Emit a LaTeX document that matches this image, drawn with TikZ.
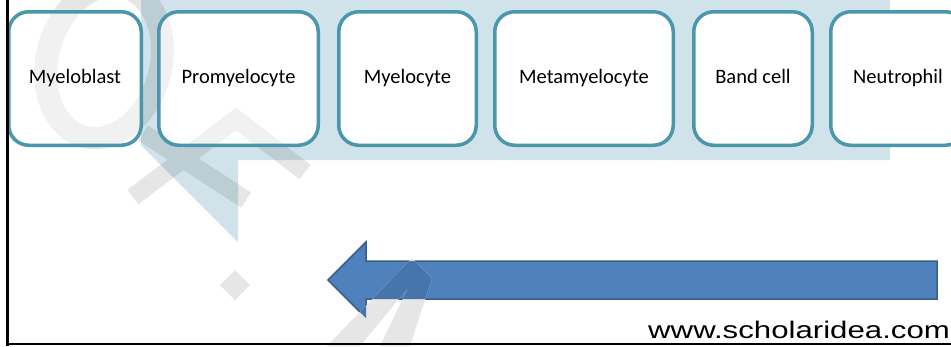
\documentclass[tikz,border=0pt]{standalone}
\usepackage{fontspec}
\newfontfamily\labfont{Carlito}
\newfontfamily\webfont{Liberation Sans}
\definecolor{bandbg}{HTML}{D0E3EA}
\definecolor{cellline}{HTML}{4A96AC}
\definecolor{arrowfill}{HTML}{4F81BD}
\definecolor{arrowline}{HTML}{385D8A}
\definecolor{wmgray}{HTML}{E6E6E6}
\definecolor{wmblue}{HTML}{BCCDD3}
\definecolor{wmarrow}{HTML}{4774AA}
\definecolor{wmfaint}{HTML}{F1F1F1}
\newcommand{\wmshapes}[1]{%
  \fill[#1, even odd rule]
    plot[domain=0:360, samples=90, smooth cycle] ({104+88*cos(\x)*0.26+68*sin(\x)*0.97}, {62-88*cos(\x)*0.97+68*sin(\x)*0.26})
    plot[domain=0:360, samples=90, smooth cycle] ({104+66*cos(\x)*0.26+45*sin(\x)*0.97}, {62-66*cos(\x)*0.97+45*sin(\x)*0.26});
  \draw[#1, line width=18pt] (133,197) -- (236,119) -- (305,172);
  \draw[#1, line width=18pt] (143,133) -- (246,200);
  \fill[#1] (220,285) -- (235,270) -- (250,285) -- (235,300) -- cycle;
  \fill[#1] (327,346) -- (412,258) -- (432,278) -- (410,346) -- (380,346) -- (408,288) -- (360,346) -- cycle;
}
\begin{document}
\begin{tikzpicture}[x=1pt,y=-1pt,
  cell/.style={draw=cellline, line width=3.5pt, rounded corners=20pt, fill=white,
    minimum height=133.5pt, inner sep=0pt, text height=13pt, text depth=4pt,
    font=\labfont\fontsize{20.5}{24}\selectfont},
  bigarrow/.style={fill=arrowfill, draw=arrowline, line width=1.5pt, line join=miter}]
\useasboundingbox (0,0) rectangle (951,346);
\clip (0,0) rectangle (951,346);
\fill[white] (0,0) rectangle (951,346);
% light blue background band
\fill[bandbg] (141,0) -- (890,0) -- (890,160) -- (238,160) -- (238,242) -- (141,145) -- cycle;
% arrow
\draw[bigarrow] (328,280) -- (366,242) -- (366,261) -- (937,261) -- (937,299) -- (366,299) -- (366,318) -- cycle;
% watermark
\wmshapes{wmgray}
\begin{scope}
  \clip (141,0) -- (890,0) -- (890,160) -- (238,160) -- (238,242) -- (141,145) -- cycle;
  \wmshapes{wmblue}
\end{scope}
\begin{scope}
  \clip (328,280) -- (366,242) -- (366,261) -- (937,261) -- (937,299) -- (366,299) -- (366,318) -- cycle;
  \wmshapes{wmarrow}
\end{scope}
% interiors of the first two cells, with the faint watermark showing through
\fill[white, rounded corners=20pt] (8.75,11.75) rectangle (141.25,145.25) (158.75,11.75) rectangle (318.25,145.25);
\begin{scope}
  \clip[rounded corners=20pt] (8.75,11.75) rectangle (141.25,145.25) (158.75,11.75) rectangle (318.25,145.25);
  \wmshapes{wmfaint}
\end{scope}
% cells
\node[cell, fill=none, minimum width=132.5pt] (myeloblast) at (75,78.5) {Myeloblast};
\node[cell, fill=none, minimum width=159.5pt] (promyelocyte) at (238.5,78.5) {Promyelocyte};
\node[cell, minimum width=137.5pt] (myelocyte) at (407.5,78.5) {Myelocyte};
\node[cell, minimum width=178.5pt] (metamyelocyte) at (584,78.5) {Metamyelocyte};
\node[cell, minimum width=118.5pt] (bandcell) at (753,78.5) {Band cell};
\node[cell, minimum width=134.5pt] (neutrophil) at (898,78.5) {Neutrophil};
% frame
\draw[line width=3pt] (7,0) -- (7,346);
\draw[line width=2.5pt] (5.5,344) -- (951,344);
% site text
\node[anchor=base west, inner sep=0pt, font=\webfont\fontsize{24}{28}\selectfont] (site) at (648,338) {\scalebox{1.3}[1]{www.scholaridea.com}};
\end{tikzpicture}
\end{document}
